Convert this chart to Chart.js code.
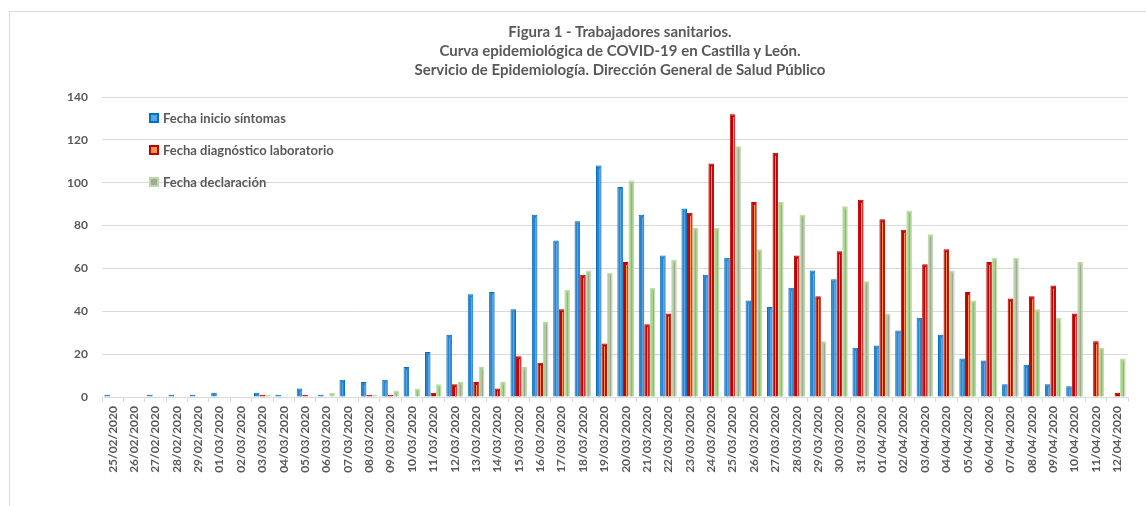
<!DOCTYPE html>
<html lang="es">
<head>
<meta charset="utf-8">
<title>Figura 1 - Trabajadores sanitarios</title>
<script src="https://cdn.jsdelivr.net/npm/chart.js@4.4.1/dist/chart.umd.min.js"></script>
<style>
  body { margin: 0; background: #fff; font-family: Lato, sans-serif; }
  #marco { position: absolute; left: 9px; top: 11px; width: 1200px; height: 600px; border: 1px solid #d9d9d9; }
  #titulo { position: absolute; left: 0; top: 22px; width: 1240px; text-align: center;
            font: bold 15px/19px Lato, sans-serif; color: #595959; }
  #grafico { position: absolute; left: 0; top: 0; }
  #leyenda { position: absolute; left: 149px; top: 110px; font: bold 13px Lato, sans-serif; color: #595959; }
  .item { height: 32px; display: flex; align-items: flex-start; }
  .caja { width: 6px; height: 6px; border: 2px solid; margin: 3px 4px 0 0; }
</style>
</head>
<body>
<div id="marco"></div>
<canvas id="grafico" width="1146" height="506"></canvas>
<div id="titulo">Figura 1 - Trabajadores sanitarios.<br>Curva epidemiológica de COVID-19 en Castilla y León.<br>Servicio de Epidemiología. Dirección General de Salud Público</div>
<div id="leyenda"></div>
<script>
const fechas = [
  "25/02/2020", "26/02/2020", "27/02/2020", "28/02/2020", "29/02/2020",
  "01/03/2020", "02/03/2020", "03/03/2020", "04/03/2020", "05/03/2020", "06/03/2020",
  "07/03/2020", "08/03/2020", "09/03/2020", "10/03/2020", "11/03/2020", "12/03/2020",
  "13/03/2020", "14/03/2020", "15/03/2020", "16/03/2020", "17/03/2020", "18/03/2020",
  "19/03/2020", "20/03/2020", "21/03/2020", "22/03/2020", "23/03/2020", "24/03/2020",
  "25/03/2020", "26/03/2020", "27/03/2020", "28/03/2020", "29/03/2020", "30/03/2020",
  "31/03/2020", "01/04/2020", "02/04/2020", "03/04/2020", "04/04/2020", "05/04/2020",
  "06/04/2020", "07/04/2020", "08/04/2020", "09/04/2020", "10/04/2020", "11/04/2020",
  "12/04/2020"
];
const inicioSintomas = [
  1, 0, 1, 1, 1, 2, 0, 2, 1, 4, 1, 8, 7, 8, 14, 21, 29, 48, 49, 41, 85, 73, 82, 108,
  98, 85, 66, 88, 57, 65, 45, 42, 51, 59, 55, 23, 24, 31, 37, 29, 18, 17, 6, 15, 6, 5, 0, 0
];
const diagnosticoLaboratorio = [
  0, 0, 0, 0, 0, 0, 0, 1, 0, 1, 0, 0, 1, 1, 0, 2, 6, 7, 4, 19, 16, 41, 57, 25,
  63, 34, 39, 86, 109, 132, 91, 114, 66, 47, 68, 92, 83, 78, 62, 69, 49, 63, 46, 47, 52, 39, 26, 2
];
const declaracion = [
  0, 0, 0, 0, 0, 0, 0, 1, 0, 0, 2, 0, 1, 3, 4, 6, 7, 14, 7, 14, 35, 50, 59, 58,
  101, 51, 64, 79, 79, 117, 69, 91, 85, 26, 89, 54, 39, 87, 76, 59, 45, 65, 65, 41, 37, 63, 23, 18
];
const ticksY = [0, 20, 40, 60, 80, 100, 120, 140];

const gris = '#595959';
const fuente = { family: 'Lato', weight: 'bold', size: 12 };

// linea clara en el centro de cada barra, como en el original
const rayaCentral = {
  id: 'rayaCentral',
  afterDatasetsDraw(chart) {
    const ctx = chart.ctx;
    chart.data.datasets.forEach((ds, i) => {
      const meta = chart.getDatasetMeta(i);
      meta.data.forEach(bar => {
        const p = bar.getProps(['x', 'y', 'base']);
        if (p.base - p.y < 4) return;
        ctx.save();
        ctx.strokeStyle = ds.raya;
        ctx.lineWidth = 1;
        ctx.beginPath();
        ctx.moveTo(Math.round(p.x) + 0.5, p.y + 3);
        ctx.lineTo(Math.round(p.x) + 0.5, p.base);
        ctx.stroke();
        ctx.restore();
      });
    });
  }
};

const myChart = new Chart(document.getElementById('grafico'), {
  type: 'bar',
  data: {
    labels: fechas,
    datasets: [
      { label: 'Fecha inicio síntomas', data: inicioSintomas,
        backgroundColor: '#2a83cf', borderColor: '#0070c0', raya: '#5aa5e4' },
      { label: 'Fecha diagnóstico laboratorio', data: diagnosticoLaboratorio,
        backgroundColor: '#c00000', borderColor: '#c00000', raya: '#f29b45' },
      { label: 'Fecha declaración', data: declaracion,
        backgroundColor: '#a9d18e', borderColor: '#b8dba0', raya: '#a5a5a5' }
    ]
  },
  options: {
    responsive: false,
    animation: false,
    layout: { padding: { top: 97, left: 0, right: 18, bottom: 0 } },
    datasets: {
      bar: { categoryPercentage: 0.78, barPercentage: 1, borderWidth: 1, borderSkipped: 'bottom' }
    },
    plugins: {
      legend: { display: false },
      tooltip: { enabled: false }
    },
    scales: {
      x: {
        afterFit: s => { s.height = 109; },
        grid: { offset: true, drawOnChartArea: false, tickLength: 5, color: '#d9d9d9' },
        border: { color: '#d9d9d9' },
        ticks: { autoSkip: false, minRotation: 90, maxRotation: 90, padding: 4, color: gris, font: fuente }
      },
      y: {
        min: 0,
        max: 140,
        afterFit: s => { s.width = 102; },
        afterBuildTicks: s => { s.ticks = ticksY.map(v => ({ value: v })); },
        grid: { drawTicks: false, color: '#d9d9d9' },
        border: { display: false },
        ticks: { padding: 14, color: gris, font: fuente }
      }
    }
  },
  plugins: [rayaCentral]
});

const leyenda = document.getElementById('leyenda');
myChart.data.datasets.forEach(ds => {
  const item = document.createElement('div');
  item.classList.add('item');
  item.innerHTML = `<span class="caja" style="border-color:${ds.borderColor};background:${ds.raya}"></span>${ds.label}`;
  leyenda.appendChild(item);
});
</script>
</body>
</html>
